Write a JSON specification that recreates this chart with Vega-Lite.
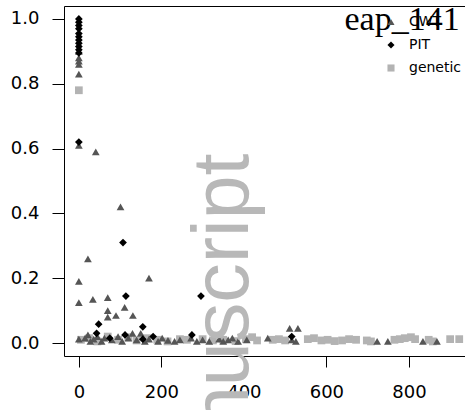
{
  "$schema": "https://vega.github.io/schema/vega-lite/v6.json",
  "autosize": {"type": "none"},
  "padding": {"left": 64, "top": 6, "right": 0, "bottom": 54},
  "width": 401,
  "height": 350,
  "background": "white",
  "config": {
    "view": {"stroke": "black", "strokeWidth": 1},
    "axis": {"grid": false, "domain": false, "tickColor": "black", "tickWidth": 1, "labelColor": "black", "labelFont": "DejaVu Sans", "labelFontSize": 18, "title": null},
    "legend": {"symbolSize": 50, "labelFont": "DejaVu Sans", "labelFontSize": 14, "labelColor": "black", "labelOffset": 11, "rowPadding": 9, "padding": 0, "symbolStrokeWidth": 0}
  },
  "datasets": {
    "pts": [
      {"type": "genetic", "x": 0, "y": 0.78},
      {"type": "genetic", "x": 5, "y": 0.01},
      {"type": "genetic", "x": 25, "y": 0.015},
      {"type": "genetic", "x": 45, "y": 0.005},
      {"type": "genetic", "x": 70, "y": 0.02},
      {"type": "genetic", "x": 95, "y": 0.01},
      {"type": "genetic", "x": 120, "y": 0.018},
      {"type": "genetic", "x": 140, "y": 0.008},
      {"type": "genetic", "x": 165, "y": 0.015},
      {"type": "genetic", "x": 190, "y": 0.01},
      {"type": "genetic", "x": 215, "y": 0.005},
      {"type": "genetic", "x": 245, "y": 0.012},
      {"type": "genetic", "x": 262, "y": 0.01},
      {"type": "genetic", "x": 300, "y": 0.012},
      {"type": "genetic", "x": 325, "y": 0.008},
      {"type": "genetic", "x": 350, "y": 0.01},
      {"type": "genetic", "x": 380, "y": 0.006},
      {"type": "genetic", "x": 405, "y": 0.012},
      {"type": "genetic", "x": 420, "y": 0.018},
      {"type": "genetic", "x": 432, "y": 0.008},
      {"type": "genetic", "x": 470, "y": 0.01},
      {"type": "genetic", "x": 485, "y": 0.012},
      {"type": "genetic", "x": 500, "y": 0.008},
      {"type": "genetic", "x": 555, "y": 0.012},
      {"type": "genetic", "x": 570, "y": 0.015},
      {"type": "genetic", "x": 588, "y": 0.008},
      {"type": "genetic", "x": 603, "y": 0.01},
      {"type": "genetic", "x": 620, "y": 0.006},
      {"type": "genetic", "x": 638, "y": 0.008},
      {"type": "genetic", "x": 655, "y": 0.012},
      {"type": "genetic", "x": 672, "y": 0.01},
      {"type": "genetic", "x": 698, "y": 0.008},
      {"type": "genetic", "x": 708, "y": 0.005},
      {"type": "genetic", "x": 765, "y": 0.01},
      {"type": "genetic", "x": 778, "y": 0.012},
      {"type": "genetic", "x": 790, "y": 0.015},
      {"type": "genetic", "x": 805, "y": 0.018},
      {"type": "genetic", "x": 815, "y": 0.012},
      {"type": "genetic", "x": 848, "y": 0.01},
      {"type": "genetic", "x": 858, "y": 0.005},
      {"type": "genetic", "x": 900, "y": 0.012},
      {"type": "genetic", "x": 922, "y": 0.012},
      {"type": "CWT", "x": 0, "y": 0.9},
      {"type": "CWT", "x": 0, "y": 0.88},
      {"type": "CWT", "x": 0, "y": 0.87},
      {"type": "CWT", "x": 0, "y": 0.86},
      {"type": "CWT", "x": 0, "y": 0.83},
      {"type": "CWT", "x": 0, "y": 0.61},
      {"type": "CWT", "x": 0, "y": 0.19},
      {"type": "CWT", "x": 0, "y": 0.125},
      {"type": "CWT", "x": 0, "y": 0.012},
      {"type": "CWT", "x": 22, "y": 0.26},
      {"type": "CWT", "x": 41, "y": 0.59},
      {"type": "CWT", "x": 101, "y": 0.42},
      {"type": "CWT", "x": 170, "y": 0.2},
      {"type": "CWT", "x": 34, "y": 0.135},
      {"type": "CWT", "x": 70, "y": 0.14},
      {"type": "CWT", "x": 111, "y": 0.11},
      {"type": "CWT", "x": 70, "y": 0.1},
      {"type": "CWT", "x": 70, "y": 0.08},
      {"type": "CWT", "x": 90, "y": 0.085},
      {"type": "CWT", "x": 131, "y": 0.085},
      {"type": "CWT", "x": 22, "y": 0.025},
      {"type": "CWT", "x": 15, "y": 0.015},
      {"type": "CWT", "x": 28, "y": 0.005},
      {"type": "CWT", "x": 36, "y": 0.012},
      {"type": "CWT", "x": 45, "y": 0.02},
      {"type": "CWT", "x": 55, "y": 0.005},
      {"type": "CWT", "x": 62, "y": 0.015},
      {"type": "CWT", "x": 80, "y": 0.01},
      {"type": "CWT", "x": 95, "y": 0.02},
      {"type": "CWT", "x": 105, "y": 0.005},
      {"type": "CWT", "x": 120, "y": 0.015},
      {"type": "CWT", "x": 130, "y": 0.03},
      {"type": "CWT", "x": 140, "y": 0.01},
      {"type": "CWT", "x": 150, "y": 0.03},
      {"type": "CWT", "x": 160, "y": 0.005},
      {"type": "CWT", "x": 170, "y": 0.012},
      {"type": "CWT", "x": 192, "y": 0.005},
      {"type": "CWT", "x": 202, "y": 0.015},
      {"type": "CWT", "x": 216, "y": 0.008},
      {"type": "CWT", "x": 232, "y": 0.005},
      {"type": "CWT", "x": 245, "y": 0.01},
      {"type": "CWT", "x": 272, "y": 0.015},
      {"type": "CWT", "x": 286, "y": 0.005},
      {"type": "CWT", "x": 300, "y": 0.01},
      {"type": "CWT", "x": 316, "y": 0.005},
      {"type": "CWT", "x": 340, "y": 0.012},
      {"type": "CWT", "x": 350, "y": 0.005},
      {"type": "CWT", "x": 362, "y": 0.01},
      {"type": "CWT", "x": 372, "y": 0.015},
      {"type": "CWT", "x": 386, "y": 0.005},
      {"type": "CWT", "x": 407, "y": 0.01},
      {"type": "CWT", "x": 458, "y": 0.015},
      {"type": "CWT", "x": 511, "y": 0.045},
      {"type": "CWT", "x": 531, "y": 0.045},
      {"type": "CWT", "x": 516, "y": 0.01},
      {"type": "CWT", "x": 526, "y": 0.005},
      {"type": "CWT", "x": 723, "y": 0.005},
      {"type": "CWT", "x": 749, "y": 0.005},
      {"type": "CWT", "x": 834, "y": 0.005},
      {"type": "CWT", "x": 868, "y": 0.005},
      {"type": "PIT", "x": 0, "y": 1.0},
      {"type": "PIT", "x": 0, "y": 0.99},
      {"type": "PIT", "x": 0, "y": 0.98},
      {"type": "PIT", "x": 0, "y": 0.97},
      {"type": "PIT", "x": 0, "y": 0.955},
      {"type": "PIT", "x": 0, "y": 0.945},
      {"type": "PIT", "x": 0, "y": 0.935},
      {"type": "PIT", "x": 0, "y": 0.925},
      {"type": "PIT", "x": 0, "y": 0.915},
      {"type": "PIT", "x": 0, "y": 0.905},
      {"type": "PIT", "x": 0, "y": 0.895},
      {"type": "PIT", "x": 0, "y": 0.62},
      {"type": "PIT", "x": 107, "y": 0.31},
      {"type": "PIT", "x": 114, "y": 0.145},
      {"type": "PIT", "x": 296, "y": 0.145},
      {"type": "PIT", "x": 48, "y": 0.058},
      {"type": "PIT", "x": 43, "y": 0.03},
      {"type": "PIT", "x": 75, "y": 0.015},
      {"type": "PIT", "x": 112, "y": 0.025},
      {"type": "PIT", "x": 155, "y": 0.05},
      {"type": "PIT", "x": 155, "y": 0.012},
      {"type": "PIT", "x": 180, "y": 0.02},
      {"type": "PIT", "x": 274, "y": 0.025},
      {"type": "PIT", "x": 516, "y": 0.02}
    ]
  },
  "layer": [
    {
      "data": {"name": "pts"},
      "mark": {"type": "point", "filled": true, "size": 60, "opacity": 1},
      "encoding": {
        "x": {"field": "x", "type": "quantitative", "scale": {"domain": [-36, 936], "nice": false, "zero": false},
              "axis": {"values": [0, 200, 400, 600, 800], "tickSize": 11, "labelPadding": 16}},
        "y": {"field": "y", "type": "quantitative", "scale": {"domain": [-0.04, 1.04], "nice": false, "zero": false},
              "axis": {"values": [0, 0.2, 0.4, 0.6, 0.8, 1.0], "format": ".1f", "tickSize": 12, "labelPadding": 13}},
        "color": {"field": "type", "type": "nominal", "title": null,
                  "scale": {"domain": ["CWT", "PIT", "genetic"], "range": ["#555555", "#000000", "#b3b3b3"]},
                  "legend": {"orient": "none", "legendX": 320, "legendY": 9, "title": null}},
        "shape": {"field": "type", "type": "nominal", "title": null,
                  "scale": {"domain": ["CWT", "PIT", "genetic"], "range": ["triangle-up", "diamond", "square"]},
                  "legend": {"orient": "none", "legendX": 320, "legendY": 9, "title": null}},
        "order": {"value": 0}
      }
    },
    {
      "data": {"values": [{"label": "eap_141"}]},
      "mark": {"type": "text", "font": "Liberation Serif", "fontSize": 34, "color": "black", "align": "right", "baseline": "alphabetic"},
      "encoding": {
        "x": {"datum": 923, "type": "quantitative"},
        "y": {"datum": 0.966, "type": "quantitative"},
        "text": {"field": "label"}
      }
    },
    {
      "data": {"values": [{"label": "Author Manuscript"}]},
      "mark": {"type": "text", "font": "Liberation Sans", "fontSize": 79, "color": "#b8b8b8", "align": "right", "baseline": "alphabetic", "angle": 270},
      "encoding": {
        "x": {"datum": 410, "type": "quantitative"},
        "y": {"datum": 0.585, "type": "quantitative"},
        "text": {"field": "label"}
      }
    }
  ]
}
